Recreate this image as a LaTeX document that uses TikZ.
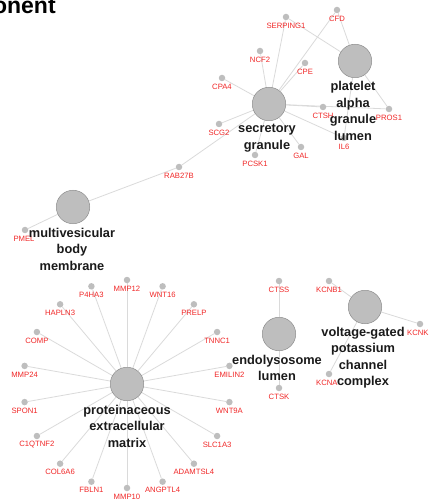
\documentclass[tikz,border=0pt]{standalone}
\usepackage{fontspec}
\setmainfont{Liberation Sans}
\pgfdeclarelayer{bg}
\pgfsetlayers{bg,main}
\definecolor{dotgray}{HTML}{BEBEBE}
\definecolor{hubedge}{HTML}{8E8E8E}
\definecolor{edgegray}{HTML}{DADADA}
\definecolor{genered}{HTML}{F02828}
\definecolor{labblack}{HTML}{1A1A1A}
\newcommand\gene[4]{\node[dot] (#1) at (#2,#3) {}; \node[glab] (#1-l) at (#2,#3+8.5) {#4};}
\begin{document}
\begin{tikzpicture}[x=1pt,y=-1pt,
 hub/.style={circle,fill=dotgray,draw=hubedge,line width=0.5pt,minimum size=33.5pt,inner sep=0pt},
 dot/.style={circle,fill=dotgray,minimum size=6.5pt,inner sep=0pt},
 glab/.style={text=genered,font=\fontsize{7.7}{8}\selectfont,inner sep=0pt},
 hlab/.style={text=labblack,font=\bfseries\fontsize{12.8}{14}\selectfont,inner sep=0pt,anchor=base},
 edge/.style={draw=edgegray,line width=0.8pt}]
\useasboundingbox (0,0) rectangle (429,502);
\node[font=\bfseries\fontsize{23}{26}\selectfont,anchor=base west,inner sep=0pt] (title) at (-7.1,14) {onent};

% hubs
\node[hub] (sg) at (269,104) {};
\node[hub] (pg) at (355,61) {};
\node[hub] (mv) at (73,207) {};
\node[hub] (pec) at (127,384) {};
\node[hub] (el) at (279,334) {};
\node[hub] (vg) at (365,307) {};

% genes top
\gene{SERPING1}{286}{17}{SERPING1}
\gene{CFD}{337}{10}{CFD}
\gene{NCF2}{260}{51}{NCF2}
\gene{CPE}{305}{63}{CPE}
\gene{CPA4}{222}{78}{CPA4}
\node[dot] (CTSH) at (323,107) {};
\node[glab] (CTSH-l) at (323,115.5) {CTSH};
\gene{PROS1}{389}{109}{PROS1}
\gene{SCG2}{219}{124}{SCG2}
\gene{GAL}{301}{147}{GAL}
\gene{PCSK1}{255}{155}{PCSK1}
\gene{IL6}{344}{138}{IL6}
\gene{RAB27B}{179}{167}{RAB27B}
\node[dot] (PMEL) at (25,230) {};
\node[glab] (PMEL-l) at (24,239) {PMEL};

% proteinaceous ring
\gene{MMP12}{127}{280}{MMP12}
\gene{WNT16}{162.6}{286.3}{WNT16}
\gene{PRELP}{193.9}{304.3}{PRELP}
\gene{TNNC1}{217.1}{332}{TNNC1}
\gene{EMILIN2}{229.4}{365.9}{EMILIN2}
\gene{WNT9A}{229.4}{402.1}{WNT9A}
\gene{SLC1A3}{217.1}{436}{SLC1A3}
\gene{ADAMTSL4}{193.9}{463.7}{ADAMTSL4}
\gene{ANGPTL4}{162.6}{481.7}{ANGPTL4}
\gene{MMP10}{127}{488}{MMP10}
\gene{FBLN1}{91.4}{481.7}{FBLN1}
\gene{COL6A6}{60.1}{463.7}{COL6A6}
\gene{C1QTNF2}{36.9}{436}{C1QTNF2}
\gene{SPON1}{24.6}{402.1}{SPON1}
\gene{MMP24}{24.6}{365.9}{MMP24}
\gene{COMP}{36.9}{332}{COMP}
\gene{HAPLN3}{60.1}{304.3}{HAPLN3}
\gene{P4HA3}{91.4}{286.3}{P4HA3}

% endolysosome, voltage-gated
\gene{CTSS}{279}{281}{CTSS}
\gene{CTSK}{279}{388}{CTSK}
\gene{KCNB1}{329}{281}{KCNB1}
\node[dot] (KCNK) at (420,324) {};
\node[glab,anchor=west] (KCNK-l) at (407,333) {KCNK};
\node[dot] (KCNA) at (329,374) {};
\node[glab,anchor=west] (KCNA-l) at (316,383) {KCNA};

% edges
\begin{pgfonlayer}{bg}
\foreach \g in {SERPING1,CFD,NCF2,CPE,CPA4,CTSH,PROS1,SCG2,GAL,PCSK1,IL6,RAB27B}
  \draw[edge] (sg) -- (\g);
\foreach \g in {SERPING1,CFD,PROS1,IL6}
  \draw[edge] (pg) -- (\g);
\foreach \g in {RAB27B,PMEL}
  \draw[edge] (mv) -- (\g);
\foreach \g in {MMP12,WNT16,PRELP,TNNC1,EMILIN2,WNT9A,SLC1A3,ADAMTSL4,ANGPTL4,MMP10,FBLN1,COL6A6,C1QTNF2,SPON1,MMP24,COMP,HAPLN3,P4HA3}
  \draw[edge] (pec) -- (\g);
\foreach \g in {CTSS,CTSK}
  \draw[edge] (el) -- (\g);
\foreach \g in {KCNB1,KCNK,KCNA}
  \draw[edge] (vg) -- (\g);
\end{pgfonlayer}

% hub labels
\node[hlab] (sg1) at (267,133) {secretory};
\node[hlab] (sg2) at (267,149.7) {granule};
\node[hlab] (pg1) at (353,91) {platelet};
\node[hlab] (pg2) at (353,107.5) {alpha};
\node[hlab] (pg3) at (353,124) {granule};
\node[hlab] (pg4) at (353,140.5) {lumen};
\node[hlab] (mv1) at (72,237) {multivesicular};
\node[hlab] (mv2) at (72,253.5) {body};
\node[hlab] (mv3) at (72,270) {membrane};
\node[hlab] (pe1) at (127,414) {proteinaceous};
\node[hlab] (pe2) at (127,430.5) {extracellular};
\node[hlab] (pe3) at (127,447) {matrix};
\node[hlab] (el1) at (277,364) {endolysosome};
\node[hlab] (el2) at (277,380.5) {lumen};
\node[hlab] (vg1) at (363,336) {voltage-gated};
\node[hlab] (vg2) at (363,352.5) {potassium};
\node[hlab] (vg3) at (363,369) {channel};
\node[hlab] (vg4) at (363,385.5) {complex};
\end{tikzpicture}
\end{document}
